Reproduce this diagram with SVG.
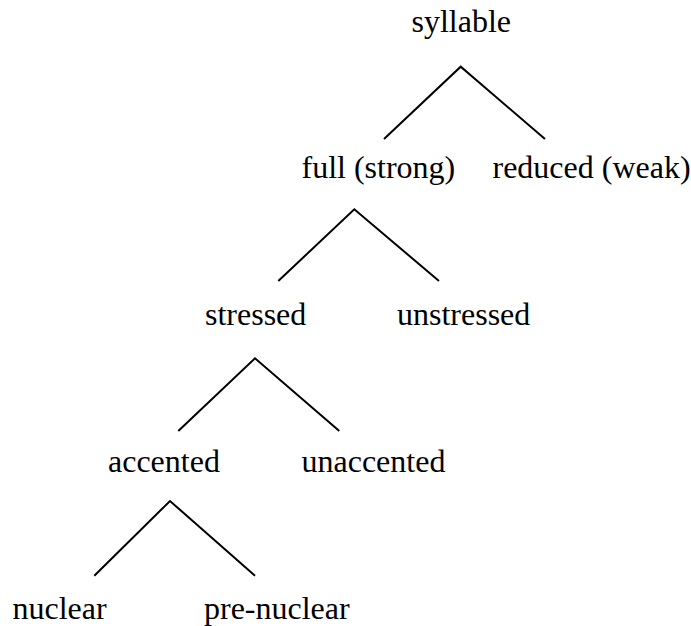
<svg xmlns="http://www.w3.org/2000/svg" width="691" height="626" viewBox="0 0 691 626">
<style>
text{font-family:"Liberation Serif","Times New Roman",serif;font-size:32px;fill:#000}
.edge{stroke:#000;stroke-width:2;fill:none}
</style>
<rect width="691" height="626" fill="#fff"/>
<g id="connectors">
<polyline class="edge" points="384,139 460.7,66.7 545,139"/>
<polyline class="edge" points="278.3,281 354.3,209.3 439,281"/>
<polyline class="edge" points="178.3,431 255,358.3 339.3,431"/>
<polyline class="edge" points="94.3,575.7 170,501 255,575.7"/>
</g>
<g id="syllable"><text x="411.5" y="32">syllable</text></g>
<g id="full"><text x="301.5" y="178">full (strong)</text></g>
<g id="reduced"><text x="492.5" y="178">reduced (weak)</text></g>
<g id="stressed"><text x="205" y="325">stressed</text></g>
<g id="unstressed"><text x="397" y="325">unstressed</text></g>
<g id="accented"><text x="108" y="472">accented</text></g>
<g id="unaccented"><text x="301.5" y="472">unaccented</text></g>
<g id="nuclear"><text x="12.5" y="619">nuclear</text></g>
<g id="pre-nuclear"><text x="204" y="619">pre-nuclear</text></g>
</svg>
